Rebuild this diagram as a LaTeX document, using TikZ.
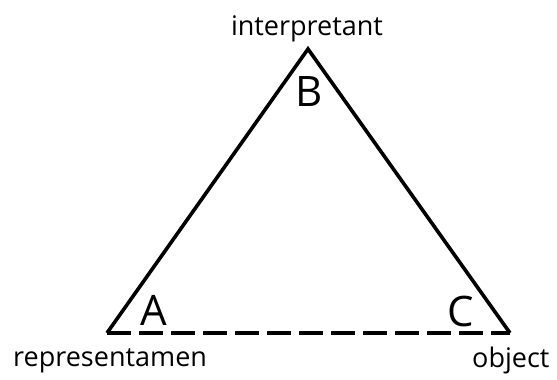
\documentclass[tikz,border=0pt]{standalone}
\usepackage{fontspec}
\setmainfont{Open Sans}
\begin{document}
\begin{tikzpicture}[x=1pt,y=-1pt,
  edge/.style={line width=3.6pt,line join=miter},
  base/.style={line width=3.6pt,dash pattern=on 24pt off 8pt},
  lbl/.style={inner sep=0pt,font=\fontsize{27}{30}\selectfont},
  vtx/.style={inner sep=0pt,font=\fontsize{42}{46}\selectfont}]
\useasboundingbox (0,0) rectangle (557,380);
\coordinate (A) at (107,333);
\coordinate (B) at (308,49);
\coordinate (C) at (510,333);
\draw[edge] (C) -- (B) -- (A);
\draw[base] (A) -- (C);
\node[lbl,anchor=base] (interp) at (307,35) {interpretant};
\node[lbl,anchor=base west] (repr) at (13,366) {representamen};
\node[lbl,anchor=base west] (obj) at (472,367) {object};
\node[vtx,anchor=base] (la) at (154,325) {A};
\node[vtx,anchor=base] (lb) at (309,106) {B};
\node[vtx,anchor=base] (lc) at (461,326) {C};
\end{tikzpicture}
\end{document}
